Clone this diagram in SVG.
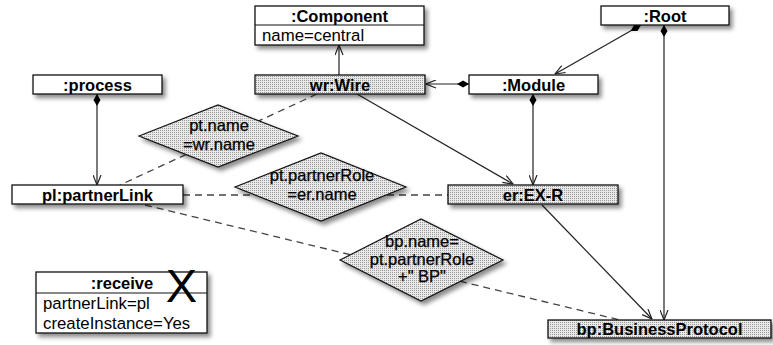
<svg xmlns="http://www.w3.org/2000/svg" width="773" height="345" viewBox="0 0 773 345">
<defs>
<pattern id="dots" width="2" height="2" patternUnits="userSpaceOnUse">
<rect width="2" height="2" fill="#e9e9e9"/>
<rect width="1" height="1" fill="#9a9a9a"/>
</pattern>
<filter id="sh" x="-10%" y="-30%" width="130%" height="190%">
<feDropShadow dx="3" dy="3.5" stdDeviation="2" flood-color="#000" flood-opacity="0.45"/>
</filter>
<marker id="arr" viewBox="0 0 11 9" refX="10.5" refY="4.5" markerWidth="11" markerHeight="9" markerUnits="userSpaceOnUse" orient="auto">
<path d="M0.5,0.5 L10.5,4.5 L0.5,8.5" fill="none" stroke="#222" stroke-width="1.2"/>
</marker>
<marker id="dia" viewBox="0 0 12 8" refX="0" refY="4" markerWidth="12" markerHeight="8" markerUnits="userSpaceOnUse" orient="auto">
<path d="M0,4 L6,0.5 L12,4 L6,7.5 Z" fill="#000"/>
</marker>
</defs>
<style>
.box{fill:#fff;stroke:#111;stroke-width:1.3;filter:url(#sh)}
.dbox{fill:url(#dots);stroke:#111;stroke-width:1.3;filter:url(#sh)}
.dia{fill:url(#dots);stroke:#111;stroke-width:1.2;filter:url(#sh)}
.t{font-family:"Liberation Sans",Arial,sans-serif;font-size:16.5px;font-weight:bold;fill:#000;text-anchor:middle}
.a{font-family:"Liberation Sans",Arial,sans-serif;font-size:16.8px;fill:#000}
.d{font-family:"Liberation Sans",Arial,sans-serif;font-size:16.5px;fill:#000;text-anchor:middle;stroke:#000;stroke-width:0.25}
.ln{stroke:#222;stroke-width:1.2;fill:none}
.dash{stroke:#444;stroke-width:1.3;fill:none;stroke-dasharray:7,5}
</style>
<g id="connectors">
<line class="ln" x1="339" y1="75" x2="339" y2="45" marker-end="url(#arr)"/>
<line class="ln" x1="469" y1="84" x2="426" y2="84" marker-start="url(#dia)" marker-end="url(#arr)"/>
<line class="ln" x1="641" y1="25" x2="555" y2="74" marker-start="url(#dia)" marker-end="url(#arr)"/>
<line class="ln" x1="664" y1="25" x2="664" y2="320" marker-start="url(#dia)" marker-end="url(#arr)"/>
<line class="ln" x1="533" y1="94" x2="533" y2="185" marker-start="url(#dia)" marker-end="url(#arr)"/>
<line class="ln" x1="357" y1="94" x2="513" y2="184" marker-end="url(#arr)"/>
<line class="ln" x1="542" y1="205" x2="652" y2="319" marker-end="url(#arr)"/>
<line class="ln" x1="97" y1="94" x2="97" y2="185" marker-start="url(#dia)" marker-end="url(#arr)"/>
<line class="dash" x1="317" y1="94" x2="120" y2="185"/>
<line class="dash" x1="183" y1="195" x2="448" y2="195"/>
<line class="dash" x1="145" y1="205" x2="620" y2="320"/>
</g>
<g id="component">
<rect class="box" x="255" y="6" width="169" height="39"/>
<line x1="255" y1="25" x2="424" y2="25" stroke="#111" stroke-width="1.2"/>
<text class="t" x="339.5" y="21.5">:Component</text>
<text class="a" x="262" y="41">name=central</text>
</g>
<g id="wire">
<rect class="dbox" x="255" y="75" width="170" height="19"/>
<text class="t" x="340" y="90.5">wr:Wire</text>
</g>
<g id="module">
<rect class="box" x="469" y="75" width="129" height="19"/>
<text class="t" x="533.5" y="90.5">:Module</text>
</g>
<g id="root">
<rect class="box" x="601" y="6" width="128" height="19"/>
<text class="t" x="665" y="21.5">:Root</text>
</g>
<g id="process">
<rect class="box" x="33" y="75" width="129" height="19"/>
<text class="t" x="97.5" y="90.5">:process</text>
</g>
<g id="partnerLink">
<rect class="box" x="12" y="185" width="171" height="19"/>
<text class="t" x="97.5" y="200.5">pl:partnerLink</text>
</g>
<g id="exr">
<rect class="dbox" x="448" y="185" width="170" height="19"/>
<text class="t" x="533" y="200.5">er:EX-R</text>
</g>
<g id="bp">
<rect class="dbox" x="548" y="320" width="223" height="18"/>
<text class="t" x="659.5" y="334.5">bp:BusinessProtocol</text>
</g>
<g id="receive">
<rect class="box" x="36" y="272" width="171" height="61"/>
<line x1="36" y1="293" x2="207" y2="293" stroke="#111" stroke-width="1.2"/>
<text class="t" x="122" y="288.5">:receive</text>
<text class="a" x="43" y="308.5">partnerLink=pl</text>
<text class="a" x="43" y="328.5">createInstance=Yes</text>
<text x="181.5" y="302" font-family="Liberation Sans,Arial,sans-serif" font-size="47" text-anchor="middle" fill="#000">X</text>
</g>
<g id="cond1">
<polygon class="dia" points="139,136 218,105 298,136 218,167"/>
<text class="d" x="219" y="131">pt.name</text>
<text class="d" x="219" y="150">=wr.name</text>
</g>
<g id="cond2">
<polygon class="dia" points="235,187 321,153 406,187 321,221"/>
<text class="d" x="322" y="181">pt.partnerRole</text>
<text class="d" x="322" y="200">=er.name</text>
</g>
<g id="cond3">
<polygon class="dia" points="340,260 421,219 503,260 421,301"/>
<text class="d" x="422" y="247">bp.name=</text>
<text class="d" x="422" y="264.5">pt.partnerRole</text>
<text class="d" x="422" y="282">+" BP"</text>
</g>
</svg>
